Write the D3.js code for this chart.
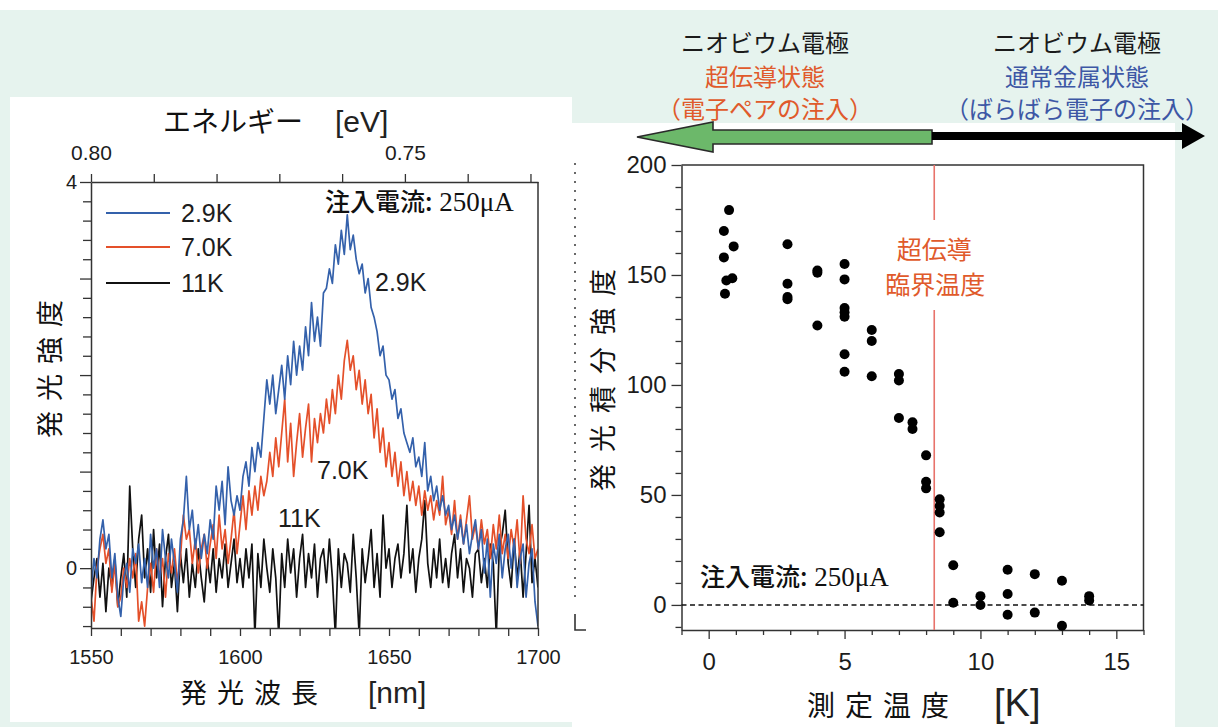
<!DOCTYPE html>
<html><head><meta charset="utf-8">
<script src="https://cdn.jsdelivr.net/npm/d3@7"></script>
<style>body{margin:0;background:#fff}svg{display:block}</style>
</head><body>
<svg id="c" width="1218" height="727"></svg>
<script>
// ---------- DATA ----------
const wavelengthStart = 1550, wavelengthEnd = 1700; // nm, 1 nm sampling
const spec29K = [
 -0.25,0.1,-0.1,0.3,0.5,0.2,0.35,-0.1,0.15,-0.3,
 -0.5,-0.1,0.05,-0.25,0.2,0.05,0.25,-0.15,0.1,-0.2,
 0.35,0.0,0.2,-0.2,0.4,0.1,-0.1,0.3,0.05,-0.25,
 0.3,0.5,0.95,0.4,0.6,0.2,0.45,0.1,0.35,0.15,
 0.5,0.3,0.85,0.6,0.9,0.45,1.05,0.7,0.55,0.75,
 0.6,0.95,1.1,0.85,1.25,1.0,1.3,1.15,1.55,1.95,
 1.7,2.0,1.6,1.85,2.1,1.75,2.2,1.9,2.35,2.0,
 2.3,2.05,2.5,2.2,2.75,2.35,2.6,2.3,2.85,2.9,
 3.1,2.95,3.35,3.15,3.5,3.25,3.66,3.3,3.45,3.2,
 3.05,3.15,2.85,3.0,2.7,2.6,2.45,2.2,2.3,2.0,
 1.95,1.75,1.85,1.55,1.65,1.4,1.3,1.2,1.35,1.05,
 1.15,0.95,1.3,0.8,0.95,0.7,0.85,0.6,0.75,0.55,
 0.65,0.4,0.55,0.3,0.5,0.25,0.45,0.15,0.35,0.5,
 0.2,0.4,-0.05,0.3,-0.3,0.25,0.05,0.35,-0.1,0.2,
 0.35,0.0,0.3,-0.2,0.1,0.25,-0.3,0.05,0.2,-0.35,
 -0.6];
const spec70K = [
 -0.3,-0.55,0.0,0.2,0.35,0.05,0.2,-0.25,0.05,-0.4,
 -0.3,0.0,-0.2,0.1,-0.1,0.15,-0.55,-0.35,-0.6,-0.2,
 0.05,-0.25,0.2,-0.1,0.1,-0.3,0.15,-0.05,0.2,-0.15,
 0.1,0.55,0.3,0.4,0.05,0.3,-0.05,0.2,0.35,0.0,
 0.25,0.45,0.1,0.55,0.2,0.4,0.05,0.3,0.6,0.15,
 0.45,0.75,0.4,0.8,0.55,0.85,0.6,0.95,0.75,0.9,
 1.2,0.95,1.35,1.05,1.4,1.75,1.1,1.5,0.95,1.3,
 1.6,1.15,1.45,1.7,1.1,1.55,1.3,1.6,1.4,1.75,
 1.5,1.85,1.6,2.0,1.75,2.15,2.36,2.05,2.2,1.85,
 2.05,1.7,1.95,1.6,1.8,1.35,1.65,1.2,1.45,1.05,
 1.3,0.95,1.2,0.85,1.1,0.75,1.0,0.7,0.9,0.65,
 0.85,0.55,0.8,0.6,0.75,0.5,0.7,0.55,0.95,0.45,
 0.6,0.35,0.7,0.3,0.55,0.25,0.5,0.75,0.3,0.45,
 0.2,0.5,0.25,0.4,0.1,0.45,0.2,0.55,0.15,0.35,
 0.1,0.4,0.2,0.5,0.05,0.75,0.3,0.15,0.45,0.1,
 0.2];
const spec11K = [
 -0.35,-0.1,0.1,-0.3,0.05,-0.45,0.0,-0.2,0.1,-0.4,
 -0.1,0.15,-0.3,0.85,0.2,-0.2,0.3,0.55,-0.1,0.2,
 -0.25,0.4,-0.1,0.25,-0.4,0.1,0.35,-0.2,0.05,-0.45,
 0.15,-0.15,0.2,-0.3,0.05,-0.2,0.2,-0.1,-0.35,0.1,
 -0.15,0.2,-0.25,0.1,-0.1,0.25,-0.2,0.05,0.3,-0.15,
 0.1,-0.2,0.2,-0.1,0.25,-0.7,0.15,-0.2,0.3,0.0,
 -0.25,0.2,-0.1,-0.7,0.15,-0.2,0.3,-0.05,0.2,-0.3,
 0.1,0.35,-0.2,0.15,-0.1,0.25,-0.3,0.1,0.2,-0.15,
 0.3,-0.1,-0.7,0.2,-0.2,0.15,0.05,-0.25,0.35,-0.1,
 -0.7,0.2,-0.15,0.1,0.4,-0.2,0.15,-0.3,0.55,0.0,
 0.2,-0.2,0.1,0.25,-0.1,0.15,0.65,-0.05,0.2,-0.25,
 0.1,0.3,0.7,0.05,-0.2,0.2,-0.1,0.3,-0.15,0.1,
 -0.2,0.15,0.35,-0.1,0.2,-0.25,0.1,0.0,-0.3,0.15,
 0.2,-0.15,0.1,-0.2,0.25,0.05,-0.7,0.2,0.35,0.6,
 0.05,-0.2,0.3,-0.1,0.2,-0.3,0.15,0.65,-0.15,0.1,
 -0.2];
const seriesNames = ["2.9K", "7.0K", "11K"];
const seriesColors = ["#3461ab", "#e4502a", "#111111"];
const nmTicks = [1550,1600,1650,1700];
const eVTickLabels = [0.80, 0.75];

// right chart: temperature [K] and integrated intensity
const tempK = [0.75,0.56,0.92,0.56,0.65,0.87,0.6,
  2.9,2.9,2.9,2.9, 4,4,4, 5,5,5,5,5,5,5, 6,6,6, 7,7,7, 7.5,7.5,
  8,8,8, 8.5,8.5,8.5,8.5, 9,9, 10,10, 11,11,11, 12,12, 13,13, 14,14];
const intInt = [179.5,170,163,158,147.5,148.5,141.5,
  164,146,140,139, 152,151,127, 155,148,135,133,131,114,106, 125,120,104, 105,102,85, 83,80,
  68,56,53, 48,45,42,33, 18,1, 4,0, 16,5,-4.5, 14,-3.5, 11,-9.5, 4,2];
const criticalT = 8.3;
const tempTicks = [0,5,10,15];
const intTicks = [0,50,100,150,200];

// ---------- DRAW ----------
const svg = d3.select('#c');
const JP = '"Noto Sans CJK JP","Noto Sans",sans-serif';
const SANS = '"Liberation Sans",Arial,sans-serif';
const SERIF = '"Liberation Serif","Times New Roman",serif';
const INK = '#1c1c1c';

svg.append('rect').attr('width',1218).attr('height',727).attr('fill','#e6f3ee');
svg.append('rect').attr('width',1218).attr('height',10).attr('fill','#ffffff');
svg.append('rect').attr('x',10).attr('y',97).attr('width',562).attr('height',625).attr('fill','#ffffff');
svg.append('rect').attr('x',572).attr('y',123).attr('width',603).attr('height',604).attr('fill','#ffffff');

// ===== LEFT CHART =====
const xL = d3.scaleLinear().domain([wavelengthStart, wavelengthEnd]).range([91, 538]);
const yL = d3.scaleLinear().domain([-0.62, 4]).range([628, 182]);
const xE = d3.scaleLinear().domain([0.80, 0.7288]).range([91, 538]);

svg.append('defs').append('clipPath').attr('id','clipL')
  .append('rect').attr('x',91).attr('y',182).attr('width',447).attr('height',446);

const lineL = d3.line().x((d,i)=>xL(wavelengthStart + i)).y(d=>yL(d)).curve(d3.curveLinear);
const gL = svg.append('g').attr('clip-path','url(#clipL)');
[[spec11K,2],[spec70K,1],[spec29K,0]].forEach(([arr,k])=>{
  gL.append('path').datum(arr).attr('d',lineL).attr('fill','none')
    .attr('stroke',seriesColors[k]).attr('stroke-width',1.7).attr('stroke-linejoin','round');
});

function styleAxis(g){
  g.select('.domain').attr('stroke','#333').attr('stroke-width',1.5);
  g.selectAll('.tick line').attr('stroke','#333').attr('stroke-width',1.3);
  g.selectAll('text').attr('fill',INK);
}
// bottom
const gxb = svg.append('g').attr('transform','translate(0,628)')
  .call(d3.axisBottom(xL).tickValues(d3.range(1550,1701,10)).tickSize(8).tickSizeOuter(0).tickPadding(14)
    .tickFormat(d=> nmTicks.includes(d) ? String(d) : ''));
styleAxis(gxb);
gxb.selectAll('text').attr('font-family',SANS).attr('font-size',20);
// top (energy)
const gxt = svg.append('g').attr('transform','translate(0,182)')
  .call(d3.axisTop(xE).tickValues(d3.range(0,8).map(i=>+(0.73+i*0.01).toFixed(2))).tickSize(8).tickSizeOuter(0).tickPadding(14)
    .tickFormat(d=> eVTickLabels.some(v=>Math.abs(v-d)<1e-6) ? d.toFixed(2) : ''));
styleAxis(gxt);
gxt.selectAll('text').attr('font-family',SANS).attr('font-size',21);
// left
const gyl = svg.append('g').attr('transform','translate(91,0)')
  .call(d3.axisLeft(yL).tickValues(d3.range(-3,21).map(i=>i/5)).tickSize(8).tickSizeOuter(0).tickPadding(6)
    .tickFormat(d=> (Math.abs(d)<1e-6 || Math.abs(d-4)<1e-6) ? String(Math.round(d)) : ''));
styleAxis(gyl);
gyl.selectAll('.tick line').filter(d=>Math.abs(d-Math.round(d))<1e-6).attr('x2',-11);
gyl.selectAll('text').attr('font-family',SANS).attr('font-size',20);
// right & frame
svg.append('line').attr('x1',538).attr('x2',538).attr('y1',182).attr('y2',628).attr('stroke','#333').attr('stroke-width',1.5);

// legend
seriesNames.forEach((n,i)=>{
  const y = [213,247,283][i];
  svg.append('line').attr('x1',106).attr('x2',170).attr('y1',y).attr('y2',y).attr('stroke',seriesColors[i]).attr('stroke-width',1.8);
  svg.append('text').attr('x',181).attr('y',y).attr('dy','0.36em').attr('font-family',SANS).attr('font-size',25).attr('fill',INK).text(n);
});
// in-plot labels
[["2.9K",375,282],["7.0K",317,470],["11K",278,518]].forEach(([t,x,y])=>{
  svg.append('text').attr('x',x).attr('y',y).attr('dy','0.36em').attr('font-family',SANS).attr('font-size',25).attr('fill',INK).text(t);
});
function currentLabel(x,y){
  const t = svg.append('text').attr('x',x).attr('y',y).attr('dy','0.36em').attr('fill','#111');
  t.append('tspan').attr('font-family',JP).attr('font-size',25).attr('font-weight',500).text('注入電流:');
  t.append('tspan').attr('font-family',SERIF).attr('font-size',27).text(' 250μA');
}
currentLabel(325,205);

// axis titles left
const tt = svg.append('text').attr('x',163).attr('y',126).attr('dy','0.36em').attr('fill','#111');
tt.append('tspan').attr('font-family',JP).attr('font-size',28).text('エネルギー');
tt.append('tspan').attr('font-family',SANS).attr('font-size',30).attr('fill','#222').attr('dx',32).text('[eV]');
const bt = svg.append('text').attr('x',180).attr('y',697).attr('dy','0.36em').attr('fill','#111');
bt.append('tspan').attr('font-family',JP).attr('font-size',27).attr('letter-spacing',10).text('発光波長');
bt.append('tspan').attr('font-family',SANS).attr('font-size',30).attr('fill','#222').attr('dx',40).text('[nm]');
svg.append('text').attr('transform','translate(50,364) rotate(-90)').attr('text-anchor','middle').attr('dy','0.36em')
  .attr('font-family',JP).attr('font-size',27).attr('letter-spacing',10).attr('fill','#111').text('発光強度');

// artifacts: dotted line remnant
svg.append('line').attr('x1',575).attr('x2',575).attr('y1',163).attr('y2',600)
  .attr('stroke','#444').attr('stroke-width',1.6).attr('stroke-dasharray','2,7');
svg.append('path').attr('d','M575,614V630H586').attr('fill','none').attr('stroke','#333').attr('stroke-width',1.6);

// ===== RIGHT CHART =====
const xR = d3.scaleLinear().domain([-1, 16]).range([681.5, 1143.5]);
const yR = d3.scaleLinear().domain([-11.4, 200]).range([630, 165]);

const gxr = svg.append('g').attr('transform','translate(0,630)')
  .call(d3.axisBottom(xR).tickValues(d3.range(-1,17)).tickSize(5).tickSizeOuter(0).tickPadding(18)
    .tickFormat(d=> tempTicks.includes(d) ? String(d) : ''));
styleAxis(gxr);
gxr.selectAll('.tick line').filter(d=>d%5===0).attr('y2',9);
gxr.selectAll('text').attr('font-family',SANS).attr('font-size',24);
const gyr = svg.append('g').attr('transform','translate(681.5,0)')
  .call(d3.axisLeft(yR).tickValues(d3.range(-10,201,10)).tickSize(6).tickSizeOuter(0).tickPadding(9)
    .tickFormat(d=> intTicks.includes(d) ? String(d) : ''));
styleAxis(gyr);
gyr.selectAll('.tick line').filter(d=>d%50===0).attr('x2',-10);
gyr.selectAll('text').attr('font-family',SANS).attr('font-size',24);
svg.append('path').attr('d',`M681.5,165H1143.5V630`).attr('fill','none').attr('stroke','#333').attr('stroke-width',1.5);

// zero dashed line
svg.append('line').attr('x1',xR(-1)).attr('x2',xR(16)).attr('y1',yR(0)).attr('y2',yR(0))
  .attr('stroke','#111').attr('stroke-width',1.5).attr('stroke-dasharray','5,3.5');
// critical temperature line
const xc = xR(criticalT);
svg.append('line').attr('x1',xc).attr('x2',xc).attr('y1',165).attr('y2',220).attr('stroke','#e8736b').attr('stroke-width',1.6);
svg.append('line').attr('x1',xc).attr('x2',xc).attr('y1',310).attr('y2',630).attr('stroke','#e8736b').attr('stroke-width',1.6);
svg.append('text').attr('x',xc).attr('y',250).attr('dy','0.36em').attr('text-anchor','middle')
  .attr('font-family',JP).attr('font-size',25).attr('fill','#e05a2b').text('超伝導');
svg.append('text').attr('x',xc+1).attr('y',285).attr('dy','0.36em').attr('text-anchor','middle')
  .attr('font-family',JP).attr('font-size',25).attr('fill','#e05a2b').text('臨界温度');

// points
svg.append('g').selectAll('circle').data(tempK).join('circle')
  .attr('cx',d=>xR(d)).attr('cy',(d,i)=>yR(intInt[i])).attr('r',5).attr('fill','#000');

currentLabel(700,580);

// titles right
const rt = svg.append('text').attr('x',807).attr('y',710).attr('dy','0.36em').attr('fill','#111');
rt.append('tspan').attr('font-family',JP).attr('font-size',28).attr('letter-spacing',10).text('測定温度');
rt.append('tspan').attr('font-family',SANS).attr('font-size',38).attr('fill','#222').attr('dx',35).text('[K]');
svg.append('text').attr('transform','translate(603,374) rotate(-90)').attr('text-anchor','middle').attr('dy','0.36em')
  .attr('font-family',JP).attr('font-size',27).attr('letter-spacing',12).attr('fill','#111').text('発光積分強度');

// ===== TOP ARROWS & LABELS =====
svg.append('path').attr('d','M637,137 L713,122 L713,130 L932,130 L932,144 L713,144 L713,152 Z')
  .attr('fill','#6cb86a').attr('stroke','#2a2a2a').attr('stroke-width',1.6).attr('stroke-linejoin','miter');
svg.append('path').attr('d','M932,132 L1182,132 L1182,123 L1205,136 L1182,149 L1182,140 L932,140 Z')
  .attr('fill','#000');
function block(cx, lines){
  lines.forEach(([t,c,y])=>{
    svg.append('text').attr('x',cx).attr('y',y).attr('dy','0.36em').attr('text-anchor','middle')
      .attr('font-family',JP).attr('font-size',24).attr('fill',c).text(t);
  });
}
block(765, [['ニオビウム電極','#1a1a1a',43],['超伝導状態','#e05a2b',77],['（電子ペアの注入）','#e05a2b',109]]);
block(1077, [['ニオビウム電極','#1a1a1a',43],['通常金属状態','#3d57a5',77],['（ばらばら電子の注入）','#3d57a5',109]]);
</script>
</body></html>
